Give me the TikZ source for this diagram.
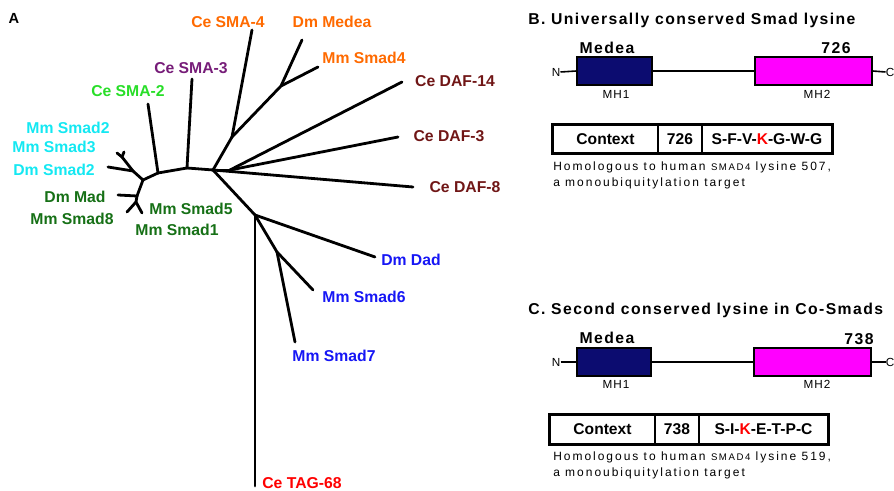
\documentclass[tikz,border=0pt]{standalone}
\usepackage{fontspec}
\setmainfont{Liberation Sans}
\newfontfamily\trackfont[LetterSpace=9]{Liberation Sans}
\newfontfamily\widefont[LetterSpace=16.5]{Liberation Sans}
\definecolor{grpOrange}{RGB}{255,106,0}
\definecolor{grpPurple}{RGB}{118,28,120}
\definecolor{grpLime}{RGB}{40,222,40}
\definecolor{grpCyan}{RGB}{20,232,242}
\definecolor{grpGreen}{RGB}{22,112,22}
\definecolor{grpMaroon}{RGB}{112,22,22}
\definecolor{grpBlue}{RGB}{22,22,245}
\definecolor{mhone}{RGB}{12,12,112}
\definecolor{mhtwo}{RGB}{255,0,255}
\tikzset{
  branch/.style={line width=2.1pt,line cap=round,line join=round},
  taxon/.style={font=\fontsize{11.8}{14}\selectfont\bfseries,inner sep=0pt},
  panel/.style={font=\fontsize{11.8}{14}\trackfont\bfseries,inner sep=0pt,anchor=west},
  domainbox/.style={draw=black,line width=0.9pt,minimum height=21pt,inner sep=0pt},
  domainname/.style={font=\fontsize{8.8}{10}\trackfont,inner sep=0pt},
  linker/.style={line width=1.2pt},
  cell/.style={draw=black,line width=1.3pt,minimum height=21pt,inner sep=0pt,
    font=\fontsize{11.7}{14}\selectfont\bfseries},
  rim/.style={line width=2.4pt},
  note/.style={font=\fontsize{9}{12}\widefont,inner sep=0pt,anchor=west,align=left},
}
\begin{document}
\begin{tikzpicture}[x=0.75pt,y=-0.75pt]
\useasboundingbox (0,0) rectangle (894,491);
%% tree (A)
\node (lblA) at (14,18) [font=\fontsize{11}{13}\selectfont\bfseries] {A};
\coordinate (hubL) at (143,180);
\coordinate (hubR) at (213,170);
\coordinate (sma2) at (158,173);
\coordinate (sma3) at (187,168);
\coordinate (upA) at (133,171);
\coordinate (upB) at (122,157);
\coordinate (lowA) at (137,196);
\coordinate (lowB) at (136,202);
\coordinate (sma4J) at (232,137);
\coordinate (medJ) at (281,86);
\coordinate (dafJ) at (230,170);
\coordinate (downJ) at (255,215);
\coordinate (i6J) at (277,252);
\coordinate (lfDmSmad2) at (108,167);
\coordinate (lfMmSmad2) at (117,153);
\coordinate (lfMmSmad3) at (124,152);
\coordinate (lfDmMad) at (118,195);
\coordinate (lfMmSmad8) at (127,212);
\coordinate (lfMmSmad15) at (142,213);
\coordinate (lfSMA2) at (148,104);
\coordinate (lfSMA3) at (192,79);
\coordinate (lfSMA4) at (252,30);
\coordinate (lfMedea) at (302,40);
\coordinate (lfSmad4) at (318,67);
\coordinate (lfDAF14) at (402,82);
\coordinate (lfDAF3) at (398,137);
\coordinate (lfDAF8) at (413,187);
\coordinate (lfDad) at (375,257);
\coordinate (lfSmad6) at (313,290);
\coordinate (lfSmad7) at (295,342);
\coordinate (lfTAG) at (255,486);
  \draw [branch] (hubL) -- (sma2);
  \draw [branch] (sma2) -- (sma3);
  \draw [branch] (sma3) -- (hubR);
  \draw [branch] (sma2) -- (lfSMA2);
  \draw [branch] (sma3) -- (lfSMA3);
  \draw [branch] (hubL) -- (upA);
  \draw [branch] (upA) -- (lfDmSmad2);
  \draw [branch] (upA) -- (upB);
  \draw [branch] (upB) -- (lfMmSmad2);
  \draw [branch] (upB) -- (lfMmSmad3);
  \draw [branch] (hubL) -- (lowA);
  \draw [branch] (lowA) -- (lfDmMad);
  \draw [branch] (lowA) -- (lowB);
  \draw [branch] (lowB) -- (lfMmSmad8);
  \draw [branch] (lowB) -- (lfMmSmad15);
  \draw [branch] (hubR) -- (sma4J);
  \draw [branch] (sma4J) -- (lfSMA4);
  \draw [branch] (sma4J) -- (medJ);
  \draw [branch] (medJ) -- (lfMedea);
  \draw [branch] (medJ) -- (lfSmad4);
  \draw [branch] (hubR) -- (dafJ);
  \draw [branch] (dafJ) -- (lfDAF14);
  \draw [branch] (dafJ) -- (lfDAF3);
  \draw [branch] (hubR) -- (lfDAF8);
  \draw [branch] (hubR) -- (downJ);
  \draw [branch] (downJ) -- (lfTAG);
  \draw [branch] (downJ) -- (lfDad);
  \draw [branch] (downJ) -- (i6J);
  \draw [branch] (i6J) -- (lfSmad6);
  \draw [branch] (i6J) -- (lfSmad7);
%%
\node (tSMA4) at (228,22) [taxon,text=grpOrange] {Ce SMA-4};
\node (tMedea) at (332,22) [taxon,text=grpOrange] {Dm Medea};
\node (tSmad4) at (364,58) [taxon,text=grpOrange] {Mm Smad4};
\node (tSMA3) at (191,68) [taxon,text=grpPurple] {Ce SMA-3};
\node (tSMA2) at (128,91) [taxon,text=grpLime] {Ce SMA-2};
\node (tMmSmad2) at (68,128) [taxon,text=grpCyan] {Mm Smad2};
\node (tMmSmad3) at (54,147) [taxon,text=grpCyan] {Mm Smad3};
\node (tDmSmad2) at (54,170) [taxon,text=grpCyan] {Dm Smad2};
\node (tDmMad) at (75,197) [taxon,text=grpGreen] {Dm Mad};
\node (tSmad8) at (72,219) [taxon,text=grpGreen] {Mm Smad8};
\node (tSmad5) at (191,209) [taxon,text=grpGreen] {Mm Smad5};
\node (tSmad1) at (177,230) [taxon,text=grpGreen] {Mm Smad1};
\node (tDAF14) at (455,81) [taxon,text=grpMaroon] {Ce DAF-14};
\node (tDAF3) at (449,136) [taxon,text=grpMaroon] {Ce DAF-3};
\node (tDAF8) at (465,187) [taxon,text=grpMaroon] {Ce DAF-8};
\node (tDad) at (411,260) [taxon,text=grpBlue] {Dm Dad};
\node (tSmad6) at (364,297) [taxon,text=grpBlue] {Mm Smad6};
\node (tSmad7) at (334,356) [taxon,text=grpBlue] {Mm Smad7};
\node (tTAG) at (302,483) [taxon,text=red] {Ce TAG-68};
%% panel B
\node (titleB) at (528,20) [panel] {B. Universally conserved Smad lysine};
\node (medeaB) at (607,48) [panel,anchor=center] {Medea};
\node (posB) at (836,48) [panel,anchor=center] {726};
\node (nB) at (556,72) [domainname] {N};
\node (cB) at (890,72) [domainname] {C};
\node (mh1B) at (614.5,71) [domainbox,fill=mhone,minimum width=56.25pt] {};
\node (mh2B) at (813.5,71) [domainbox,fill=mhtwo,minimum width=87.75pt] {};
\node (mh1labB) at (616,94) [domainname] {MH1};
\node (mh2labB) at (817,94) [domainname] {MH2};
  \draw [linker] (nB.east) -- (mh1B.west);
  \draw [linker] (mh1B.east) -- (mh2B.west);
  \draw [linker] (mh2B.east) -- (cB.west);
\node (ctxB) at (605.5,139) [cell,minimum width=78.75pt] {Context};
\node (numB) at (680,139) [cell,minimum width=33pt] {726};
\node (seqB) at (767,139) [cell,minimum width=97.5pt] {S-F-V-\textcolor{red}{K}-G-W-G};
  \draw [rim] (ctxB.north west) rectangle (seqB.south east);
\node (noteB) at (553,175) [note] {Homologous to human {\fontsize{7.2}{12}\selectfont SMAD4} lysine 507,\\a monoubiquitylation target};
%% panel C
\node (titleC) at (528,310) [panel] {C. Second conserved lysine in Co-Smads};
\node (medeaC) at (607,338) [panel,anchor=center] {Medea};
\node (posC) at (859,339) [panel,anchor=center] {738};
\node (nC) at (556,362) [domainname] {N};
\node (cC) at (890,362) [domainname] {C};
\node (mh1C) at (614,362) [domainbox,fill=mhone,minimum width=55.5pt] {};
\node (mh2C) at (812.5,362) [domainbox,fill=mhtwo,minimum width=87.75pt] {};
\node (mh1labC) at (616,384) [domainname] {MH1};
\node (mh2labC) at (817,384) [domainname] {MH2};
  \draw [linker] (nC.east) -- (mh1C.west);
  \draw [linker] (mh1C.east) -- (mh2C.west);
  \draw [linker] (mh2C.east) -- (cC.west);
\node (ctxC) at (602.5,429.5) [cell,minimum width=78.75pt] {Context};
\node (numC) at (677,429.5) [cell,minimum width=33pt] {738};
\node (seqC) at (763.5,429.5) [cell,minimum width=96.75pt] {S-I-\textcolor{red}{K}-E-T-P-C};
  \draw [rim] (ctxC.north west) rectangle (seqC.south east);
\node (noteC) at (553,465) [note] {Homologous to human {\fontsize{7.2}{12}\selectfont SMAD4} lysine 519,\\a monoubiquitylation target};
%
\end{tikzpicture}
\end{document}
